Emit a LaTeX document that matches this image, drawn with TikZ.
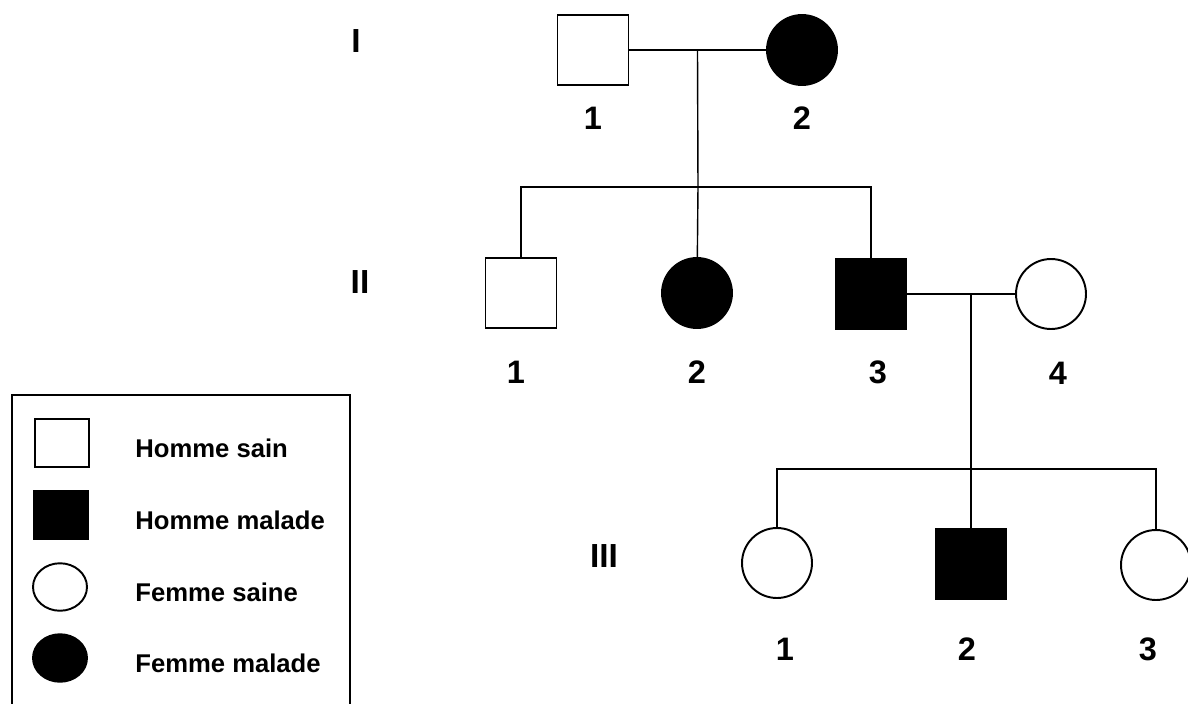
\documentclass[tikz,border=0pt]{standalone}
\usepackage{fontspec}
\setmainfont{Liberation Sans}
\usepackage{tikz}
\usetikzlibrary{shapes.geometric,calc}
\tikzset{
  homme/.style={draw, rectangle, line width=1.1pt, minimum width=1.42cm, minimum height=1.4cm, inner sep=0pt},
  femme/.style={draw, circle, line width=1.1pt, minimum size=1.4cm, inner sep=0pt},
  malade/.style={fill=black},
  num/.style={font=\fontsize{18.5}{18.5}\selectfont\bfseries},
  gen/.style={font=\fontsize{19}{19}\selectfont\bfseries},
  lien/.style={line width=0.8pt},
  leg/.style={font=\fontsize{14.6}{14.6}\selectfont\bfseries, anchor=west, inner sep=0pt},
  legsym/.style={draw, line width=1.1pt, minimum width=1.08cm, minimum height=0.95cm, inner sep=0pt},
}

\begin{document}
\begin{tikzpicture}[x=0.02cm,y=-0.02cm]
    \useasboundingbox (0,0) rectangle (1188,704);
    % generations
    \node[gen] (gI)   at (356,41)  {I};
    \node[gen] (gII)  at (360,282) {II};
    \node[gen] (gIII) at (604,556) {III};

    % I
    \node[homme]        (I1) at (593,50) {};
    \node[femme,malade] (I2) at (802,50) {};
    \node[num] (nI1) at (593,118) {1};
    \node[num] (nI2) at (802,118) {2};
    \coordinate (m1) at ($(I1)!0.5!(I2)$);
    \coordinate (s1) at (698,187);

    % II
    \node[homme]        (II1) at (521,293) {};
    \node[femme,malade] (II2) at (697,293) {};
    \node[homme,malade] (II3) at (871,294) {};
    \node[femme]        (II4) at (1051,294) {};
    \node[num] (nII1) at (516,372) {1};
    \node[num] (nII2) at (697,372) {2};
    \node[num] (nII3) at (878,372) {3};
    \node[num] (nII4) at (1058,373) {4};
    \coordinate (m2) at (971,294);
    \coordinate (s2) at (971,469);

    % III
    \node[femme]        (III1) at (777,563) {};
    \node[homme,malade] (III2) at (971,564) {};
    \node[femme]        (III3) at (1156,565) {};
    \node[num] (nIII1) at (785,649) {1};
    \node[num] (nIII2) at (967,649) {2};
    \node[num] (nIII3) at (1148,649) {3};

    \draw[lien] (I1) -- (I2);
    \draw[lien] (m1) -- (s1);
    \draw[lien] (II1) |- (s1) -| (II3);
    \draw[lien] (s1) -- (II2);
    \draw[lien] (II3) -- (II4);
    \draw[lien] (m2) -- (s2);
    \draw[lien] (III1) |- (s2) -| (III3);
    \draw[lien] (s2) -- (III2);

    % legende
    \draw[line width=1pt] (12,704) -- (12,395) -- (350,395) -- (350,704);
    \node[legsym, rectangle]         (lHS) at (62,443) {};
    \node[legsym, rectangle, malade] (lHM) at (61,515) {};
    \node[legsym, ellipse]           (lFS) at (60,587) {};
    \node[legsym, ellipse, malade]   (lFM) at (60,658) {};
    \node[leg] (tHS) at (135,448) {Homme sain};
    \node[leg] (tHM) at (135,520) {Homme malade};
    \node[leg] (tFS) at (135,592) {Femme saine};
    \node[leg] (tFM) at (135,663) {Femme malade};
\end{tikzpicture}
\end{document}
